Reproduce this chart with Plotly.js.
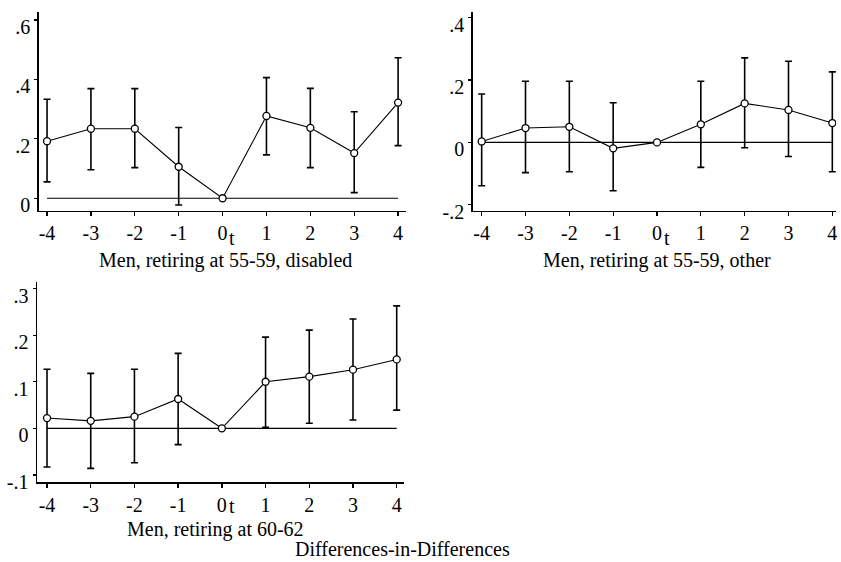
<!DOCTYPE html>
<html>
<head>
<meta charset="utf-8">
<script src="https://cdn.plot.ly/plotly-3.0.1.min.js"></script>
<style>html,body{margin:0;padding:0;background:#fff;}#chart{width:841px;height:562px;}</style>
</head>
<body>
<div id="chart"></div>
<script>
// ---- Data ----
const periods = [-4, -3, -2, -1, 0, 1, 2, 3, 4];
const xTickText = ["-4", "-3", "-2", "-1", "0", "1", "2", "3", "4"];

// Men, retiring at 55-59, disabled
const p1Est   = [0.192, 0.234, 0.234, 0.106, 0, 0.277, 0.237, 0.152, 0.322];
const p1Upper = [0.333, 0.369, 0.369, 0.238, null, 0.406, 0.370, 0.291, 0.473];
const p1Lower = [0.055, 0.096, 0.103, -0.023, null, 0.146, 0.103, 0.019, 0.177];
const p1YTicks = [0, 0.2, 0.4, 0.6];
const p1YText  = ["0", ".2", ".4", ".6"];

// Men, retiring at 55-59, other
const p2Est   = [0.003, 0.046, 0.050, -0.019, 0, 0.058, 0.125, 0.104, 0.062];
const p2Upper = [0.155, 0.196, 0.196, 0.127, null, 0.196, 0.271, 0.260, 0.226];
const p2Lower = [-0.139, -0.097, -0.094, -0.155, null, -0.080, -0.017, -0.045, -0.094];
const p2YTicks = [-0.2, 0, 0.2, 0.4];
const p2YText  = ["-.2", "0", ".2", ".4"];

// Men, retiring at 60-62
const p3Est   = [0.022, 0.016, 0.025, 0.063, 0, 0.100, 0.111, 0.126, 0.148];
const p3Upper = [0.127, 0.118, 0.127, 0.161, null, 0.196, 0.211, 0.235, 0.263];
const p3Lower = [-0.083, -0.086, -0.074, -0.035, null, 0.002, 0.011, 0.018, 0.039];
const p3YTicks = [-0.1, 0, 0.1, 0.2, 0.3];
const p3YText  = ["-.1", "0", ".1", ".2", ".3"];

const panelTitles = ["Men, retiring at 55-59, disabled", "Men, retiring at 55-59, other", "Men, retiring at 60-62"];
const zeroLineX = [-4, 4];
const zeroLineY = [0, 0];
const figureCaption = "Differences-in-Differences";

// ---- Helpers ----
const W = 841, H = 562;
const px = v => v / W;
const py = v => 1 - v / H;
const FONT = "Liberation Serif, Times New Roman, serif";

function diff(a, b, sign) {
  return a.map((v, i) => (v === null ? null : sign * (v - b[i])));
}

function panelTraces(est, upper, lower, xa, ya) {
  return [
    {
      x: zeroLineX, y: zeroLineY, xaxis: xa, yaxis: ya,
      mode: "lines", line: {color: "#000", width: 1.2},
      hoverinfo: "skip", showlegend: false
    },
    {
      x: periods, y: est, xaxis: xa, yaxis: ya,
      mode: "lines+markers",
      line: {color: "#000", width: 1.1},
      marker: {symbol: "circle", size: 7, color: "#fff", line: {color: "#000", width: 1.3}},
      error_y: {
        type: "data", symmetric: false,
        array: diff(upper, est, 1),
        arrayminus: diff(lower, est, -1),
        color: "#000", thickness: 1.6, width: 3.5
      },
      showlegend: false
    }
  ];
}

const data = [
  ...panelTraces(p1Est, p1Upper, p1Lower, "x", "y"),
  ...panelTraces(p2Est, p2Upper, p2Lower, "x2", "y2"),
  ...panelTraces(p3Est, p3Upper, p3Lower, "x3", "y3")
];

function xAxis(domain, range, anchor) {
  return {
    domain: domain, range: range, anchor: anchor,
    tickmode: "array", tickvals: periods, ticktext: xTickText,
    ticks: "outside", ticklen: 4, tickwidth: 1.3, tickcolor: "#000",
    showline: true, linecolor: "#000", linewidth: 1.5,
    showgrid: false, zeroline: false,
    tickfont: {family: FONT, size: 20, color: "#000"}
  };
}
function yAxis(domain, range, anchor, vals, text) {
  return {
    domain: domain, range: range, anchor: anchor,
    tickmode: "array", tickvals: vals, ticktext: text,
    ticks: "outside", ticklen: 3, tickwidth: 1.3, tickcolor: "#000",
    showline: true, linecolor: "#000", linewidth: 1.5,
    showgrid: false, zeroline: false,
    ticklabelshift: 7,
    tickfont: {family: FONT, size: 20, color: "#000"}
  };
}

function ann(text, x, y, size, extra) {
  return Object.assign({
    text: text, xref: "paper", yref: "paper", x: px(x), y: py(y),
    xanchor: "center", yanchor: "middle", showarrow: false,
    font: {family: FONT, size: size, color: "#000"}
  }, extra || {});
}

const layout = {
  width: W, height: H,
  margin: {l: 0, r: 0, t: 0, b: 0},
  paper_bgcolor: "#fff", plot_bgcolor: "#fff",
  showlegend: false,
  font: {family: FONT, color: "#000"},
  xaxis:  xAxis([px(38.7), px(406)], [-4.19, 4.18], "y"),
  yaxis:  yAxis([py(210.7), py(11.7)], [-0.042, 0.628], "x", p1YTicks, p1YText),
  xaxis2: xAxis([px(472.7), px(836)], [-4.205, 4.084], "y2"),
  yaxis2: yAxis([py(210.7), py(11.7)], [-0.219, 0.419], "x2", p2YTicks, p2YText),
  xaxis3: xAxis([px(37), px(404)], [-4.229, 4.167], "y3"),
  yaxis3: yAxis([py(482.3), py(281.7)], [-0.116, 0.315], "x3", p3YTicks, p3YText),
  annotations: [
    ann(panelTitles[0], 226, 260, 20),
    ann(panelTitles[1], 657, 260, 20),
    ann(panelTitles[2], 215, 529, 20),
    ann("t", 232, 238, 20),
    ann("t", 667, 238, 20),
    ann("t", 232, 506, 20),
    ann(figureCaption, 402, 562, 20, {yanchor: "bottom"})
  ]
};

Plotly.newPlot("chart", data, layout, {staticPlot: true, displayModeBar: false});
</script>
</body>
</html>
